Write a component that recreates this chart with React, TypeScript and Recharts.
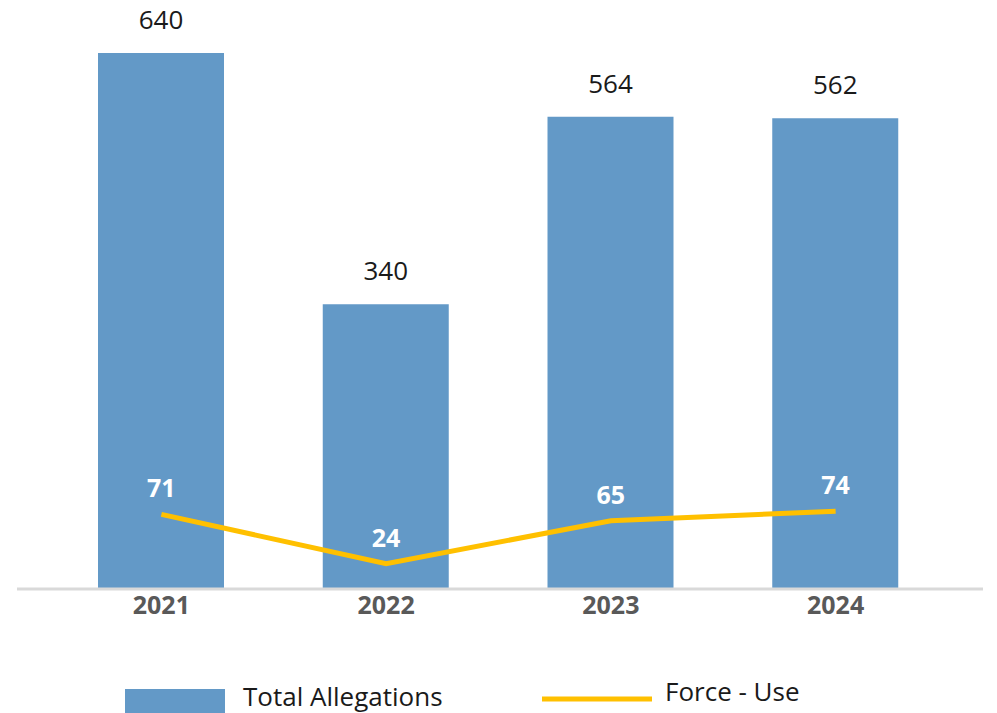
import React from "react";
import { ComposedChart, Bar, Line, XAxis, YAxis, LabelList, Legend } from "recharts";

const years = ["2021", "2022", "2023", "2024"];
const totalAllegations = [640, 340, 564, 562];
const forceUse = [71, 24, 65, 74];

const data = years.map((y, i) => ({ year: y, total: totalAllegations[i], force: forceUse[i] }));

const FONT = "'Open Sans', sans-serif";
const BAR_COLOR = "#6399C7";
const LINE_COLOR = "#FFC000";

const renderLegend = () => (
  <svg width={997} height={40} style={{ display: "block" }}>
    <rect x={125} y={16} width={100} height={24} fill={BAR_COLOR} />
    <text x={243} y={33} fontFamily={FONT} fontSize={26} fill="#1a1a1a">
      Total Allegations
    </text>
    <line x1={542} x2={652} y1={26} y2={26} stroke={LINE_COLOR} strokeWidth={5} />
    <text x={665} y={28} fontFamily={FONT} fontSize={26} fill="#1a1a1a">
      Force - Use
    </text>
  </svg>
);

export default function App() {
  return (
    <div style={{ position: "absolute", left: 0, top: 0, width: 997, height: 713, background: "#fff" }}>
      <ComposedChart
        width={997}
        height={713}
        data={data}
        margin={{ top: 53, right: 14, left: 17, bottom: 0 }}
      >
        <XAxis
          dataKey="year"
          axisLine={{ stroke: "#d9d9d9", strokeWidth: 3 }}
          tickLine={false}
          tickSize={0}
          tickMargin={7}
          height={84}
          padding={{ left: 32, right: 35 }}
          tick={{ fontSize: 25, fontWeight: 700, fill: "#595959", fontFamily: FONT }}
          interval={0}
        />
        <YAxis yAxisId="left" domain={[0, 640]} hide />
        <YAxis yAxisId="right" orientation="right" domain={[0, 510]} hide />
        <Legend verticalAlign="bottom" content={renderLegend} wrapperStyle={{ left: 0, width: 997 }} />
        <Bar yAxisId="left" dataKey="total" name="Total Allegations" fill={BAR_COLOR} barSize={126} isAnimationActive={false}>
          <LabelList dataKey="total" position="top" offset={24} fill="#1a1a1a" fontSize={26} fontFamily={FONT} />
        </Bar>
        <Line
          yAxisId="right"
          dataKey="force"
          name="Force - Use"
          stroke={LINE_COLOR}
          strokeWidth={5}
          dot={false}
          activeDot={false}
          type="linear"
          isAnimationActive={false}
        >
          <LabelList dataKey="force" position="top" offset={17} fill="#ffffff" fontSize={25} fontWeight={700} fontFamily={FONT} />
        </Line>
      </ComposedChart>
    </div>
  );
}
